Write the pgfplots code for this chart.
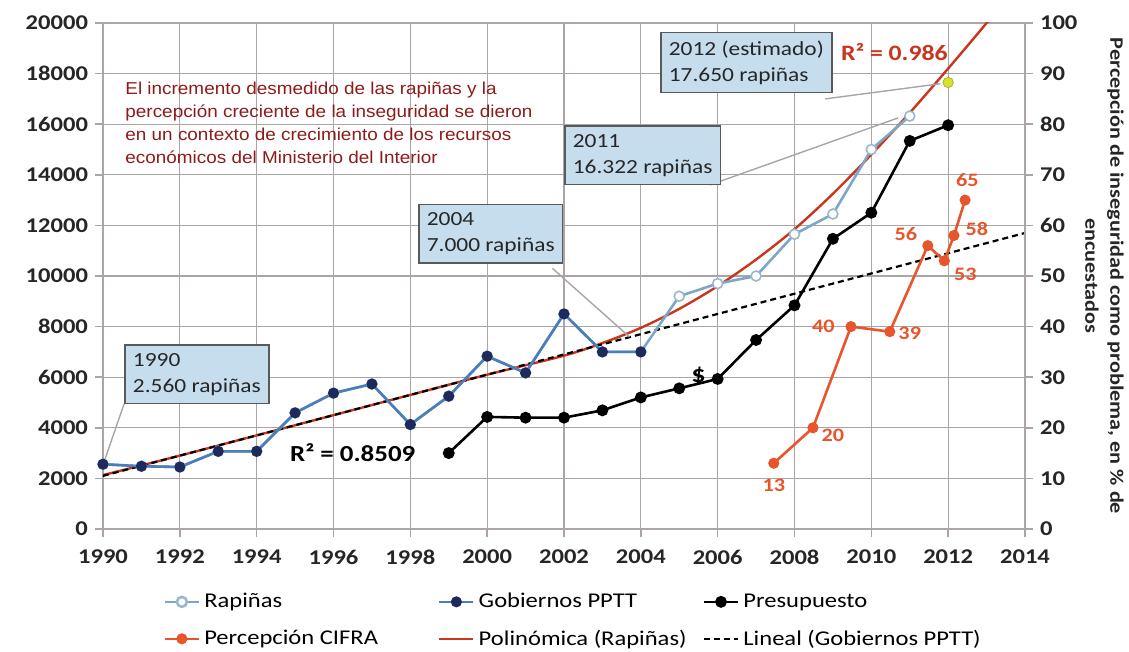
\documentclass[border=0pt]{standalone}
\usepackage{pgfplots}
\pgfplotsset{compat=1.18}
\usepackage{fontspec}
\setmainfont{Carlito}[FakeStretch=1.17]
\newfontfamily\arialfont{Liberation Sans}[FakeStretch=1.1]
\definecolor{rapline}{HTML}{7DA7CA}
\definecolor{rapedge}{HTML}{9BB7CF}
\definecolor{gobline}{HTML}{4A7EBB}
\definecolor{gobmark}{HTML}{1F2A5C}
\definecolor{percep}{HTML}{E8542C}
\definecolor{polyred}{HTML}{C8361E}
\definecolor{boxfill}{HTML}{C6DDEE}
\definecolor{boxdraw}{HTML}{595959}
\definecolor{darkred}{HTML}{8E1B1B}
\definecolor{gridc}{HTML}{ABA5A5}
\definecolor{tickc}{HTML}{262626}
\definecolor{yelpt}{HTML}{D8E030}
\pgfplotsset{
  common/.style={
    scale only axis, width=461pt, height=253pt,
    xmin=1990, xmax=2014,
    /pgf/number format/1000 sep={},
    /pgf/number format/assume math mode=true,
    scaled y ticks=false,
    ticklabel style={font=\bfseries\fontsize{10.5}{12}\selectfont, text=tickc},
    axis line style={gridc, line width=0.8pt},
    tick style={gridc, line width=0.8pt},
    tick align=outside, major tick length=4pt, minor tick length=3pt,
  },
}
\tikzset{
  box/.style={draw=boxdraw, fill=boxfill, line width=0.8pt, align=left,
    font=\fontsize{10}{13}\selectfont, inner sep=4pt, text=black!85},
  leader/.style={gray!70, line width=0.7pt},
}
\begin{document}
\begin{tikzpicture}
\begin{axis}[common, name=main,
  ymin=0, ymax=20000,
  xtick={1990,1992,...,2014}, ytick={0,2000,...,20000},
  minor x tick num=1,
  grid=major, major grid style={gridc, line width=0.6pt},
  axis x line*=bottom, axis y line*=left,
  xticklabel style={yshift=-3pt},
  clip=true,
  legend columns=3, legend cell align=left,
  legend style={at={(0.511,-0.11)}, anchor=north, draw=none, fill=none,
    font=\fontsize{10.5}{12}\selectfont, row sep=5.5pt,
    /tikz/column 2/.style={column sep=28pt},
    /tikz/column 4/.style={column sep=6pt}},
]
% polynomial trend
\addplot[polyred, line width=1.2pt, smooth, forget plot] coordinates {
(1990,2130) (1992,2900) (1994,3700) (1996,4500) (1998,5300) (2000,6100)
(2002,6850) (2003,7350) (2004,7950) (2005,8700) (2006,9600) (2007,10650)
(2008,11850) (2009,13250) (2010,14800) (2011,16450) (2012,18200) (2013,20000) (2013.3,20600)};
% linear trend
\addplot[black, line width=1.1pt, dash pattern=on 3pt off 2pt, forget plot] coordinates {
(1990,2100) (2014,11700)};
% Rapinas
\addplot[rapline, line width=1.3pt, mark=*, mark size=2.5pt,
  mark options={fill=white, draw=rapedge, line width=0.8pt}, forget plot] coordinates {
(1990,2560) (1991,2480) (1992,2450) (1993,3070) (1994,3070) (1995,4590)
(1996,5370) (1997,5730) (1998,4130) (1999,5250) (2000,6830) (2001,6170)
(2002,8500) (2003,7000) (2004,7000) (2005,9200) (2006,9700) (2007,10000)
(2008,11650) (2009,12450) (2010,15000) (2011,16322)};
% Gobiernos PPTT
\addplot[gobline, line width=1.3pt, mark=*, mark size=2.1pt,
  mark options={fill=gobmark, draw=gobmark}, forget plot] coordinates {
(1990,2560) (1991,2480) (1992,2450) (1993,3070) (1994,3070) (1995,4590)
(1996,5370) (1997,5730) (1998,4130) (1999,5250) (2000,6830) (2001,6170)
(2002,8500) (2003,7000) (2004,7000)};
% Presupuesto
\addplot[black, line width=1.3pt, mark=*, mark size=2.3pt, forget plot] coordinates {
(1999,3000) (2000,4430) (2001,4400) (2002,4400) (2003,4690) (2004,5200)
(2005,5560) (2006,5930) (2007,7470) (2008,8840) (2009,11470) (2010,12500)
(2011,15340) (2012,15960)};
% 2012 estimate
\addplot[only marks, mark=*, mark size=2.6pt, mark options={fill=yelpt, draw=yelpt!80!black}, forget plot]
 coordinates {(2012,17650)};

\addlegendimage{rapline, line width=1.3pt, mark=*, mark size=2.5pt, mark options={fill=white, draw=rapedge}}
\addlegendentry{Rapiñas}
\addlegendimage{gobline, line width=1.3pt, mark=*, mark size=2.1pt, mark options={fill=gobmark, draw=gobmark}}
\addlegendentry{Gobiernos PPTT}
\addlegendimage{black, line width=1.3pt, mark=*, mark size=2.3pt}
\addlegendentry{Presupuesto}
\addlegendimage{percep, line width=1.3pt, mark=*, mark size=2.1pt}
\addlegendentry{Percepción CIFRA}
\addlegendimage{polyred, line width=1.3pt}
\addlegendentry{Polinómica (Rapiñas)}
\addlegendimage{black, line width=1.1pt, dash pattern=on 3pt off 2pt}
\addlegendentry{Lineal (Gobiernos PPTT)}

% annotations
\draw[leader] (axis cs:1990.55,4950) -- (axis cs:1990.05,2750);
\node[box, anchor=north west] at (axis cs:1990.55,7300) {1990\\2.560 rapiñas};
\draw[leader] (axis cs:2001.7,10300) -- (axis cs:2003.7,7600);
\node[box, anchor=north west] at (axis cs:1998.2,12850) {2004\\7.000 rapiñas};
\draw[leader] (axis cs:2005.8,13600) -- (axis cs:2010.7,16250);
\node[box, anchor=north west] at (axis cs:2002.0,15950) {2011\\16.322 rapiñas};
\draw[leader] (axis cs:2008.8,17000) -- (axis cs:2011.8,17600);
\node[box, anchor=north west] at (axis cs:2004.5,19650) {2012 (estimado)\\17.650 rapiñas};
\node[anchor=north west, align=left, text=darkred, font=\arialfont\fontsize{8.6}{11.5}\selectfont]
  at (axis cs:1990.4,17950) {El incremento desmedido de las rapiñas y la\\percepción creciente de la inseguridad se dieron\\en un contexto de crecimiento de los recursos\\económicos del Ministerio del Interior};
\node[text=polyred, font=\bfseries\fontsize{11}{14}\selectfont] at (axis cs:2010.6,18850) {R² = 0.986};
\node[text=black, font=\bfseries\fontsize{11.5}{14}\selectfont] at (axis cs:1996.5,3000) {R² = 0.8509};
\node[text=black, font=\bfseries\fontsize{12}{14}\selectfont] at (axis cs:2005.5,6050) {\$};
\end{axis}

\begin{axis}[common,
  ymin=0, ymax=100, ytick={0,10,...,100},
  axis y line*=right, axis x line=none,
  clip=false,
  ylabel={Percepción de inseguridad como problema, en \% de\\encuestados},
  ylabel shift=-3pt,
  ylabel style={align=center, font=\bfseries\fontsize{9.5}{12.5}\selectfont, rotate=180, text=tickc},
]
\addplot[percep, line width=1.3pt, mark=*, mark size=2.1pt] coordinates {
(2007.46,13) (2008.48,20) (2009.47,40) (2010.48,39) (2011.47,56) (2011.9,53) (2012.15,58) (2012.44,65)};
\begin{scope}[every node/.style={text=percep, font=\bfseries\fontsize{9.5}{12}\selectfont}]
\node at (axis cs:2007.46,8.6) {13};
\node at (axis cs:2009.0,18.5) {20};
\node at (axis cs:2008.75,40) {40};
\node at (axis cs:2011.0,38.6) {39};
\node at (axis cs:2010.9,58.3) {56};
\node at (axis cs:2012.45,50.3) {53};
\node at (axis cs:2012.75,59.3) {58};
\node at (axis cs:2012.5,68.9) {65};
\end{scope}
\end{axis}
\pgfresetboundingbox
\path[use as bounding box] ([shift={(-51.5pt,-61.5pt)}]main.south west) rectangle ([shift={(52pt,11.5pt)}]main.north east);
\end{tikzpicture}
\end{document}
